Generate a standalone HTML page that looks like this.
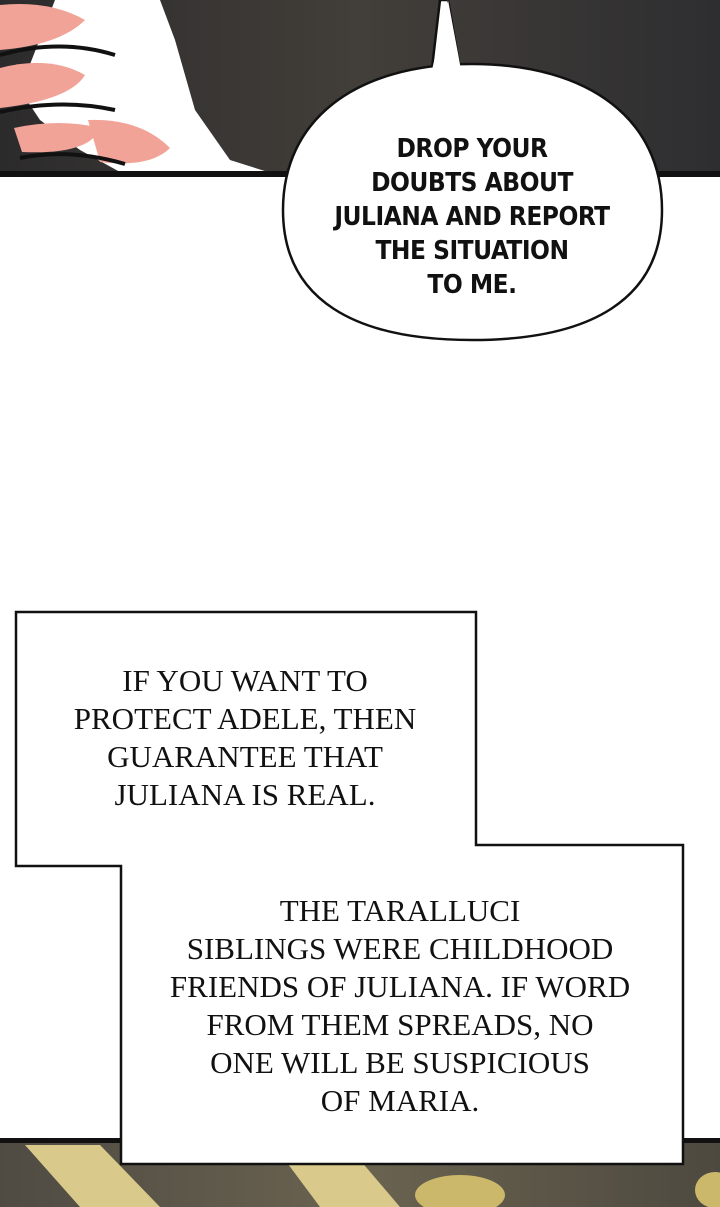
<!DOCTYPE html>
<html><head><meta charset="utf-8"><style>
html,body{margin:0;padding:0;background:#fff;}
body{width:720px;height:1207px;position:relative;overflow:hidden;}
.bt{position:absolute;left:277px;width:390px;text-align:center;font-family:"DejaVu Sans Condensed","Liberation Sans",sans-serif;font-weight:bold;font-size:26px;line-height:34px;top:132px;color:#111;letter-spacing:-0.5px;}
.st{position:absolute;text-align:center;font-family:"Liberation Serif",serif;font-size:31px;line-height:38px;color:#111;}
</style></head><body>
<svg width="720" height="1207" style="position:absolute;left:0;top:0">
<defs>
<linearGradient id="tp" x1="0" y1="0" x2="1" y2="0"><stop offset="0" stop-color="#2c2b2c"/><stop offset="0.5" stop-color="#423e39"/><stop offset="1" stop-color="#2e2e31"/></linearGradient>
<linearGradient id="bp" x1="0" y1="0" x2="1" y2="0"><stop offset="0" stop-color="#4f4b43"/><stop offset="0.5" stop-color="#6a6350"/><stop offset="1" stop-color="#4d493f"/></linearGradient>
</defs>
<rect x="0" y="0" width="720" height="174" fill="url(#tp)"/>
<path d="M55 0 L160 0 L175 40 L195 110 L230 160 L268 172 L120 172 L80 150 L40 120 L20 90 Z" fill="#fff"/>
<path d="M0 5 Q50 0 85 20 Q60 45 0 50 Z" fill="#f2a397"/>
<path d="M0 68 Q50 55 85 75 Q70 100 0 108 Z" fill="#f2a397"/>
<path d="M14 128 Q60 118 100 128 Q90 155 22 152 Z" fill="#f2a397"/>
<path d="M88 120 Q140 118 170 148 Q150 168 100 162 Z" fill="#f2a397"/>
<path d="M0 55 Q60 38 115 55 M0 112 Q60 98 115 110 M20 158 Q70 148 125 164" stroke="#111" stroke-width="4" fill="none"/>
<rect x="0" y="171" width="720" height="6" fill="#111"/>
<path d="M440 0 L448 0 L462 80 L430 85 Z" fill="#fff" stroke="#111" stroke-width="2.5"/>
<path d="M472 64 C590 64 662 120 662 210 C662 300 590 340 472 340 C355 340 283 300 283 210 C283 120 355 64 472 64 Z" fill="#fff" stroke="#111" stroke-width="2.5"/>
<path d="M432 70 L448 0 L462 75 Z" fill="#fff"/>
<rect x="0" y="1140" width="720" height="67" fill="url(#bp)"/>
<polygon points="25,1145 100,1145 160,1207 80,1207" fill="#d9c98a"/>
<polygon points="285,1160 360,1160 400,1207 320,1207" fill="#d9c98a"/>
<ellipse cx="460" cy="1195" rx="45" ry="20" fill="#cbb86b"/>
<ellipse cx="715" cy="1190" rx="20" ry="18" fill="#cbb86b"/>
<rect x="0" y="1138" width="720" height="5" fill="#111"/>
<path d="M16 612 L476 612 L476 845 L683 845 L683 1164 L121 1164 L121 866 L16 866 Z" fill="#fff" stroke="#111" stroke-width="2.5"/>
</svg>
<div class="bt">DROP YOUR<br>DOUBTS ABOUT<br>JULIANA AND REPORT<br>THE SITUATION<br>TO ME.</div>
<div class="st" style="left:40px;width:410px;top:662px;">IF YOU WANT TO<br>PROTECT ADELE, THEN<br>GUARANTEE THAT<br>JULIANA IS REAL.</div>
<div class="st" style="left:140px;width:520px;top:892px;">THE TARALLUCI<br>SIBLINGS WERE CHILDHOOD<br>FRIENDS OF JULIANA. IF WORD<br>FROM THEM SPREADS, NO<br>ONE WILL BE SUSPICIOUS<br>OF MARIA.</div>
</body></html>
